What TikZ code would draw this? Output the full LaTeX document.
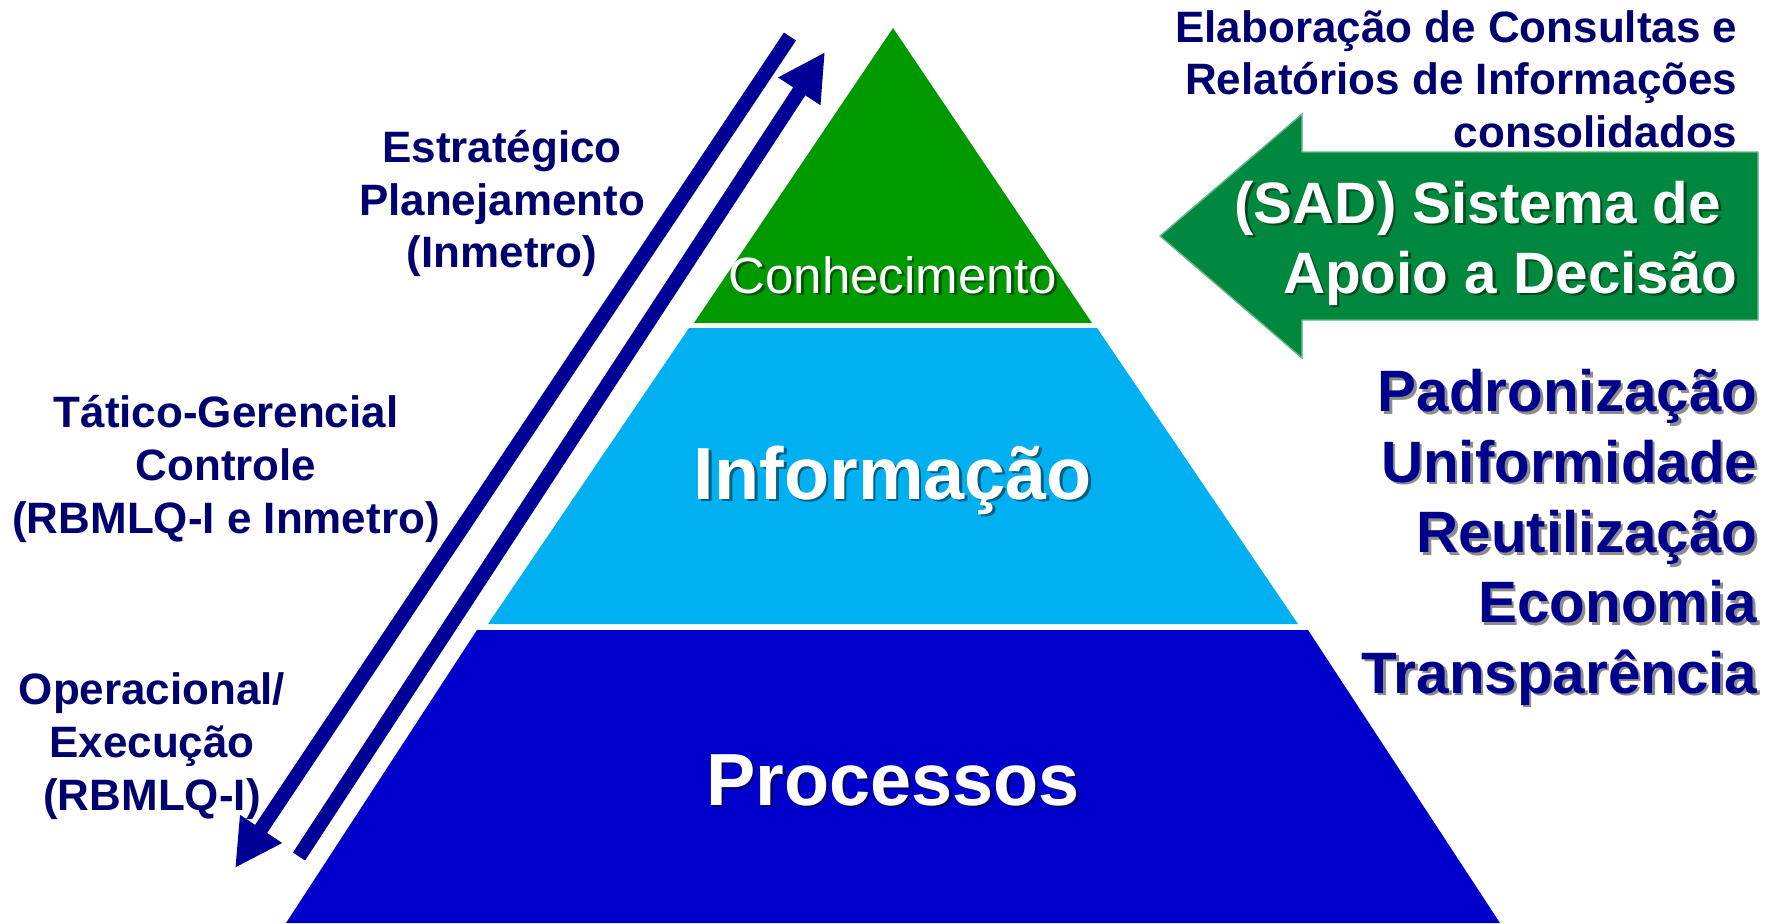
\documentclass[tikz,border=0pt]{standalone}
\usepackage{fontspec}
\setmainfont{Liberation Sans}
\usepackage{tikz}
\usetikzlibrary{arrows.meta}

\definecolor{lvlgreen}{HTML}{009900}
\definecolor{lvlcyan}{HTML}{00B0F0}
\definecolor{lvlblue}{HTML}{0000CC}
\definecolor{flownavy}{HTML}{000096}
\definecolor{labnavy}{HTML}{00006E}
\definecolor{listnavy}{HTML}{00008C}
\definecolor{sadgreen}{HTML}{00883E}

% text with a soft drop shadow
\newcommand{\shtext}[4]{%
  \node[#1,text=black,text opacity=.45,xshift=.75pt,yshift=-.75pt] at #3 {#4};
  \node[#1] (#2) at #3 {#4};}

\begin{document}
\begin{tikzpicture}[x=0.01cm,y=-0.01cm,
    lbl/.style={inner sep=0pt,align=center,text=labnavy,
      font=\fontsize{12.5}{15}\selectfont\bfseries},
    lvltext/.style={inner sep=0pt,text=white,anchor=base,
      font=\fontsize{21}{25}\selectfont\bfseries},
    sadtext/.style={inner sep=0pt,align=right,anchor=east,text=white,
      font=\fontsize{16.6}{19.9}\selectfont\bfseries},
    listtext/.style={inner sep=0pt,align=right,anchor=east,text=listnavy,
      font=\fontsize{16.6}{20}\selectfont\bfseries},
    flow/.style={draw=flownavy,line width=0.145cm,
      -{Triangle[width=0.47cm,length=0.47cm]}}]
    \useasboundingbox (0,0) rectangle (1779,923);

    % pyramid
    \fill[lvlgreen] (893,28) -- (1092,323) -- (694,323) -- cycle;
    \fill[lvlcyan] (689,328) -- (1097,328) -- (1298,624) -- (488,624) -- cycle;
    \fill[lvlblue] (477,630) -- (1308,630) -- (1500,923) -- (286,923) -- cycle;

    % up and down arrows
    \coordinate (dntop) at (790,36.5);
    \coordinate (dntip) at (235,868);
    \coordinate (upbot) at (299,856.5);
    \coordinate (uptip) at (825,52);
    \draw[flow] (dntop) -- (dntip);
    \draw[flow] (upbot) -- (uptip);

    % SAD arrow
    \filldraw[fill=sadgreen,draw=sadgreen!60!white,line width=0.4pt]
      (1160,236) -- (1302,114) -- (1302,152) -- (1758,152)
      -- (1758,320) -- (1302,320) -- (1302,358) -- cycle;

    \node[lbl] (strat) at (502,203.5) {Estratégico\\Planejamento\\(Inmetro)};
    \node[lbl] (tatic) at (226,468.7) {Tático-Gerencial\\Controle\\(RBMLQ-I e Inmetro)};
    \node[lbl] (oper) at (152,746.2) {Operacional/\\Execução\\(RBMLQ-I)};
    \node[lbl,align=right,anchor=east] (elab) at (1738,79.2)
      {Elaboração de Consultas e\\Relatórios de Informações\\consolidados};

    \shtext{sadtext}{sad}{(1738,242.9)}{(SAD) Sistema de\hspace*{0.28em}\\Apoio a Decisão}
    \shtext{inner sep=0pt,text=white,anchor=base,font=\fontsize{14.5}{17}\selectfont}{conh}{(893,293)}{Conhecimento}
    \shtext{lvltext}{info}{(893,499)}{Informação}
    \shtext{lvltext}{proc}{(893,805)}{Processos}
    \shtext{listtext}{list}{(1758,537.4)}{Padronização\\Uniformidade\\Reutilização\\Economia\\Transparência}
\end{tikzpicture}
\end{document}
